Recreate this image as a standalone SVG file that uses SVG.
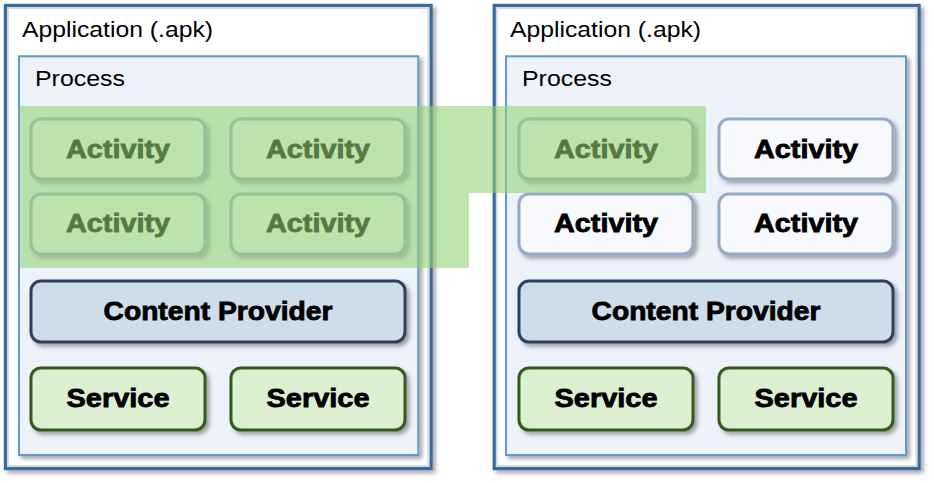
<svg xmlns="http://www.w3.org/2000/svg" width="934" height="483" viewBox="0 0 934 483">
<defs>
<filter id="sh" x="-10%" y="-10%" width="130%" height="130%">
<feDropShadow dx="3" dy="3" stdDeviation="2" flood-color="#000" flood-opacity="0.35"/>
</filter>
</defs>
<style>
.app{fill:#fff;stroke:#3a6b9f;stroke-width:3.4}
.bevel{fill:none;stroke:#d8d8d8;stroke-width:2}
.proc{fill:#eef2fa;stroke:#5b9bd5;stroke-width:2}
.act{fill:#f7f9fc;stroke:#94a9c5;stroke-width:3}
.cp{fill:#cfdce9;stroke:#2b405c;stroke-width:3}
.svc{fill:#dcf0d1;stroke:#355a1f;stroke-width:3}
.lbl{font-family:"Liberation Sans",Arial,sans-serif;font-size:22.5px;fill:#000}
.b{font-family:"Liberation Sans",Arial,sans-serif;font-weight:bold;font-size:26px;fill:#000;stroke:#000;stroke-width:0.8}
.ov{fill:#92d171;fill-opacity:0.58}
</style>
<g id="app-left">
<rect class="app" x="5.5" y="5.5" width="425.5" height="463" filter="url(#sh)"/>
<rect class="bevel" x="8" y="8" width="420.5" height="458"/>
<text class="lbl" x="22" y="37" textLength="191" lengthAdjust="spacingAndGlyphs">Application (.apk)</text>
</g>
<g id="app-right">
<rect class="app" x="494.3" y="5.5" width="424.7" height="463" filter="url(#sh)"/>
<rect class="bevel" x="496.8" y="8" width="419.7" height="458"/>
<text class="lbl" x="510" y="37" textLength="191" lengthAdjust="spacingAndGlyphs">Application (.apk)</text>
</g>
<g id="process-left">
<rect class="proc" x="19" y="56.3" width="399.3" height="398.7" filter="url(#sh)"/>
<text class="lbl" x="35" y="86" textLength="90" lengthAdjust="spacingAndGlyphs">Process</text>
</g>
<g id="process-right">
<rect class="proc" x="506" y="56.3" width="400" height="398.7" filter="url(#sh)"/>
<text class="lbl" x="522" y="86" textLength="90" lengthAdjust="spacingAndGlyphs">Process</text>
</g>
<g id="activity-l1"><rect class="act" x="31" y="119" width="174" height="60" rx="10" filter="url(#sh)"/><text class="b" x="66" y="158" textLength="104" lengthAdjust="spacingAndGlyphs">Activity</text></g>
<g id="activity-l2"><rect class="act" x="231" y="119" width="174" height="60" rx="10" filter="url(#sh)"/><text class="b" x="266" y="158" textLength="104" lengthAdjust="spacingAndGlyphs">Activity</text></g>
<g id="activity-l3"><rect class="act" x="31" y="194" width="174" height="60" rx="10" filter="url(#sh)"/><text class="b" x="66" y="232" textLength="104" lengthAdjust="spacingAndGlyphs">Activity</text></g>
<g id="activity-l4"><rect class="act" x="231" y="194" width="174" height="60" rx="10" filter="url(#sh)"/><text class="b" x="266" y="232" textLength="104" lengthAdjust="spacingAndGlyphs">Activity</text></g>
<g id="content-provider-l"><rect class="cp" x="31" y="281" width="374" height="61" rx="10" filter="url(#sh)"/><text class="b" x="103.5" y="320" textLength="229" lengthAdjust="spacingAndGlyphs">Content Provider</text></g>
<g id="service-l1"><rect class="svc" x="31" y="368" width="174" height="62" rx="10" filter="url(#sh)"/><text class="b" x="66.5" y="407" textLength="103" lengthAdjust="spacingAndGlyphs">Service</text></g>
<g id="service-l2"><rect class="svc" x="231" y="368" width="174" height="62" rx="10" filter="url(#sh)"/><text class="b" x="266.5" y="407" textLength="103" lengthAdjust="spacingAndGlyphs">Service</text></g>
<g id="activity-r1"><rect class="act" x="519" y="119" width="174" height="60" rx="10" filter="url(#sh)"/><text class="b" x="554" y="158" textLength="104" lengthAdjust="spacingAndGlyphs">Activity</text></g>
<g id="activity-r2"><rect class="act" x="719" y="119" width="174" height="60" rx="10" filter="url(#sh)"/><text class="b" x="754" y="158" textLength="104" lengthAdjust="spacingAndGlyphs">Activity</text></g>
<g id="activity-r3"><rect class="act" x="519" y="194" width="174" height="60" rx="10" filter="url(#sh)"/><text class="b" x="554" y="232" textLength="104" lengthAdjust="spacingAndGlyphs">Activity</text></g>
<g id="activity-r4"><rect class="act" x="719" y="194" width="174" height="60" rx="10" filter="url(#sh)"/><text class="b" x="754" y="232" textLength="104" lengthAdjust="spacingAndGlyphs">Activity</text></g>
<g id="content-provider-r"><rect class="cp" x="519" y="281" width="374" height="61" rx="10" filter="url(#sh)"/><text class="b" x="591.5" y="320" textLength="229" lengthAdjust="spacingAndGlyphs">Content Provider</text></g>
<g id="service-r1"><rect class="svc" x="519" y="368" width="174" height="62" rx="10" filter="url(#sh)"/><text class="b" x="554.5" y="407" textLength="103" lengthAdjust="spacingAndGlyphs">Service</text></g>
<g id="service-r2"><rect class="svc" x="719" y="368" width="174" height="62" rx="10" filter="url(#sh)"/><text class="b" x="754.5" y="407" textLength="103" lengthAdjust="spacingAndGlyphs">Service</text></g>
<g id="task-highlight">
<path class="ov" d="M19.5,106 H706 V193 H469 V268 H19.5 Z"/>
</g>
<g id="connectors"/>
</svg>
